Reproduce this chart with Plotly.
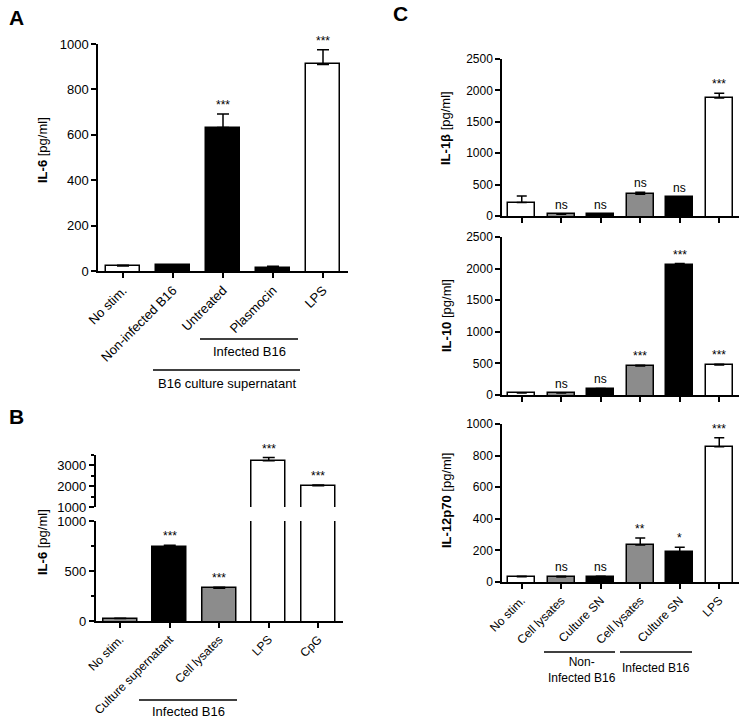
import plotly.graph_objects as go

W, H = 739, 719
FONT = "Arial, Liberation Sans, sans-serif"
WHITE, BLACK, GRAY = "#ffffff", "#000000", "#8c8c8c"

# ---------------- data ----------------
a_cats = ["No stim.", "Non-infected B16", "Untreated", "Plasmocin", "LPS"]
a_vals = [22, 25, 632, 15, 910]
a_err = [3, 3, 60, 6, 65]
a_sig = ["", "", "***", "", "***"]
a_cols = [WHITE, BLACK, BLACK, BLACK, WHITE]

b_cats = ["No stim.", "Culture supernatant", "Cell lysates", "LPS", "CpG"]
b_vals = [25, 737, 327, 3220, 2020]
b_err = [3, 20, 10, 160, 40]
b_sig = ["", "***", "***", "***", "***"]
b_cols = [GRAY, BLACK, GRAY, WHITE, WHITE]

c_cats = ["No stim.", "Cell lysates", "Culture SN", "Cell lysates", "Culture SN", "LPS"]
c_cols = [WHITE, GRAY, BLACK, GRAY, BLACK, WHITE]
il1b_vals = [215, 28, 30, 345, 298, 1880]
il1b_err = [105, 5, 5, 32, 10, 75]
il1b_sig = ["", "ns", "ns", "ns", "ns", "***"]
il10_vals = [30, 30, 92, 458, 2060, 475]
il10_err = [4, 4, 12, 12, 20, 12]
il10_sig = ["", "ns", "ns", "***", "***", "***"]
il12_vals = [33, 32, 33, 234, 192, 856]
il12_err = [4, 4, 4, 44, 28, 57]
il12_sig = ["", "ns", "ns", "**", "*", "***"]


def fx(p):
    return p / W


def fy(p):
    return 1 - p / H


fig = go.Figure()


def bars(vals, errs, cols, xa, ya, width, below, xs=None, caps=6):
    """Bars start slightly below the axis so their bottom outline is hidden."""
    n = len(vals)
    if xs is None:
        xs = list(range(n))
    fig.add_trace(go.Bar(
        x=xs, y=[v + below for v in vals], base=-below,
        width=width, xaxis=xa, yaxis=ya,
        marker=dict(color=cols, line=dict(color="black", width=1.5)),
        hoverinfo="skip",
    ))
    # upward-only error bars drawn as an invisible scatter at the bar tops
    fig.add_trace(go.Scatter(
        x=xs, y=vals, mode="markers", xaxis=xa, yaxis=ya,
        marker=dict(size=1, color="rgba(0,0,0,0)"),
        error_y=dict(type="data", symmetric=False, array=errs,
                     arrayminus=[0] * n, color="black",
                     thickness=1.5, width=caps),
        hoverinfo="skip",
    ))


def stars(vals, errs, sig, xr, yr, size, shift=0, xs=None):
    if xs is None:
        xs = list(range(len(vals)))
    for x, v, e, s in zip(xs, vals, errs, sig):
        if s:
            fig.add_annotation(x=x, y=v + e, xref=xr, yref=yr, text=s,
                               showarrow=False, yanchor="bottom", yshift=shift,
                               font=dict(size=size, color="black"))


# Panel A
bars(a_vals, a_err, a_cols, "x", "y", 0.68, 30)
stars(a_vals, a_err, a_sig, "x", "y", 12)

# Panel B lower and upper (broken axis)
bars(b_vals, b_err, b_cols, "x2", "y2", 0.68, 60)
stars(b_vals[:3], b_err[:3], b_sig[:3], "x2", "y2", 12)
up_idx = [i for i, v in enumerate(b_vals) if v > 1000]
bars([b_vals[i] for i in up_idx], [b_err[i] for i in up_idx],
     [b_cols[i] for i in up_idx], "x3", "y3", 0.68, 0, xs=up_idx)
stars([b_vals[i] for i in up_idx], [b_err[i] for i in up_idx],
      [b_sig[i] for i in up_idx], "x3", "y3", 12, xs=up_idx)

# Panel C
bars(il1b_vals, il1b_err, c_cols, "x4", "y4", 0.69, 80, caps=5)
stars(il1b_vals, il1b_err, il1b_sig, "x4", "y4", 12)
bars(il10_vals, il10_err, c_cols, "x5", "y5", 0.69, 80, caps=5)
stars(il10_vals, il10_err, il10_sig, "x5", "y5", 12)
bars(il12_vals, il12_err, c_cols, "x6", "y6", 0.69, 30, caps=5)
stars(il12_vals, il12_err, il12_sig, "x6", "y6", 12)

axis_common = dict(showline=True, linecolor="black", linewidth=1.5,
                   ticks="outside", tickcolor="black", tickwidth=1.5,
                   ticklen=5, showgrid=False, zeroline=False, automargin=False,
                   tickfont=dict(size=13, color="black", family=FONT))


def xax(domain, n, labels=None, size=13, rng=None, anchor=None, show=True):
    d = dict(axis_common)
    d.update(domain=[fx(domain[0]), fx(domain[1])],
             range=rng if rng else [-0.5, n - 0.5],
             tickmode="array", tickvals=list(range(n)),
             anchor=anchor)
    d["tickfont"] = dict(size=size, color="black", family=FONT)
    if labels:
        d.update(ticktext=labels, tickangle=-45, showticklabels=True)
    else:
        d.update(showticklabels=False)
    if not show:
        d.update(showline=False, ticks="", showticklabels=False)
    return d


def yax(top, bottom, rng, dtick, size=13, anchor=None, minor=None):
    d = dict(axis_common)
    d.update(domain=[fy(bottom), fy(top)], range=rng, dtick=dtick,
             anchor=anchor, tick0=0)
    d["tickfont"] = dict(size=size, color="black", family=FONT)
    if minor:
        d["minor"] = dict(dtick=minor, ticklen=3, tickwidth=1.5,
                          tickcolor="black", ticks="outside")
    return d


fig.update_layout(
    width=W, height=H,
    margin=dict(l=0, r=0, t=0, b=0, pad=0, autoexpand=False),
    paper_bgcolor="white", plot_bgcolor="white", showlegend=False,
    font=dict(family=FONT, color="black"),
    bargap=0,
    xaxis=xax((98, 348), 5, a_cats, 13, anchor="y"),
    yaxis=yax(44, 271, [0, 1000], 200, anchor="x"),
    xaxis2=xax((95.5, 343), 5, b_cats, 12, anchor="y2"),
    yaxis2=yax(521, 621, [0, 1000], 500, anchor="x2", minor=250),
    xaxis3=xax((95.5, 343), 5, None, anchor="y3", show=False),
    yaxis3=yax(455, 507, [1000, 3500], 1000, anchor="x3", minor=500),
    xaxis4=xax((502, 739), 6, None, 12, anchor="y4"),
    yaxis4=yax(59, 216, [0, 2500], 500, 12, anchor="x4"),
    xaxis5=xax((502, 739), 6, None, 12, anchor="y5"),
    yaxis5=yax(237, 395, [0, 2500], 500, 12, anchor="x5"),
    xaxis6=xax((502, 739), 6, c_cats, 12, anchor="y6"),
    yaxis6=yax(424, 582, [0, 1000], 200, 12, anchor="x6"),
)


def ann(px, py, text, size=13, angle=0, bold=False, xanchor="center"):
    fig.add_annotation(x=fx(px), y=fy(py), xref="paper", yref="paper",
                       text=f"<b>{text}</b>" if bold else text,
                       showarrow=False, textangle=angle, xanchor=xanchor,
                       yanchor="middle", font=dict(size=size, color="black"))


def hline(x0, x1, py):
    fig.add_shape(type="line", xref="paper", yref="paper",
                  x0=fx(x0), x1=fx(x1), y0=fy(py), y1=fy(py),
                  line=dict(color="black", width=1.5))


# Panel letters
ann(16, 18, "A", 21, bold=True)
ann(16, 416, "B", 21, bold=True)
ann(400, 14, "C", 21, bold=True)

# Y titles
ann(42, 150, "<b>IL-6</b> [pg/ml]", 13, angle=-90)
ann(42, 542, "<b>IL-6</b> [pg/ml]", 13, angle=-90)
ann(446, 128, "<b>IL-1β</b> [pg/ml]", 13, angle=-90)
ann(446, 315, "<b>IL-10</b> [pg/ml]", 13, angle=-90)
ann(446, 500, "<b>IL-12p70</b> [pg/ml]", 13, angle=-90)

# Group brackets
hline(200, 298, 339)
ann(249, 352, "Infected B16", 13)
hline(153, 300, 370)
ann(227, 383, "B16 culture supernatant", 13)
hline(139, 237, 700)
ann(188, 711, "Infected B16", 13)
hline(544, 615, 652)
ann(582, 670, "Non-<br>Infected B16", 12)
hline(620, 692, 652)
ann(656, 668, "Infected B16", 12)

fig.write_html("out.html", config={"displayModeBar": False},
               post_script="document.body.style.margin='0';document.body.style.overflow='hidden';")
